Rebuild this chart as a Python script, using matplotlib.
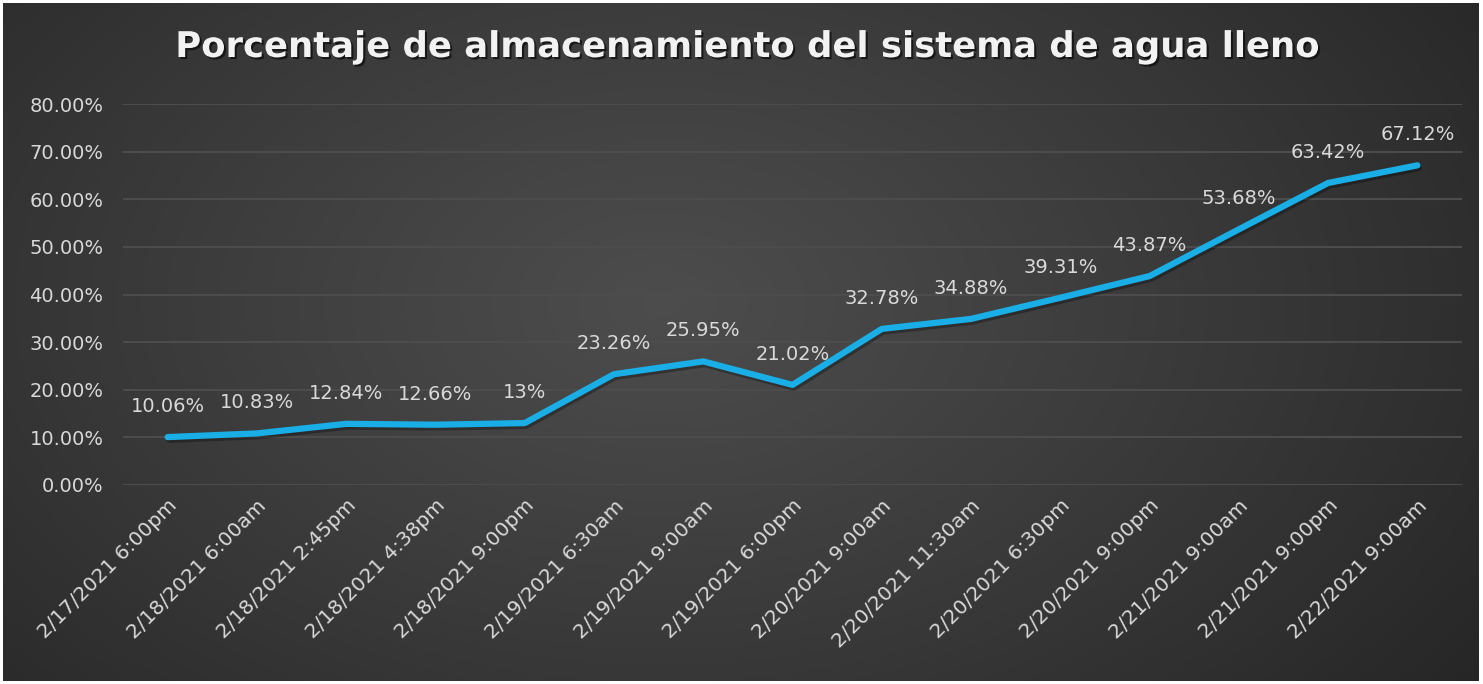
import matplotlib
matplotlib.use("Agg")
import matplotlib.pyplot as plt
import matplotlib.patheffects as pe
import matplotlib.ticker as ticker
import numpy as np

categorias = ["2/17/2021 6:00pm", "2/18/2021 6:00am", "2/18/2021 2:45pm", "2/18/2021 4:38pm",
              "2/18/2021 9:00pm", "2/19/2021 6:30am", "2/19/2021 9:00am", "2/19/2021 6:00pm",
              "2/20/2021 9:00am", "2/20/2021 11:30am", "2/20/2021 6:30pm", "2/20/2021 9:00pm",
              "2/21/2021 9:00am", "2/21/2021 9:00pm", "2/22/2021 9:00am"]
porcentaje = [10.06, 10.83, 12.84, 12.66, 13, 23.26, 25.95, 21.02, 32.78, 34.88,
              39.31, 43.87, 53.68, 63.42, 67.12]
etiquetas = [f"{v:g}%" for v in porcentaje]
titulo = "Porcentaje de almacenamiento del sistema de agua lleno"

plt.rcParams['font.family'] = ['DejaVu Sans']
txt = "#d9d9d9"

fig = plt.figure(figsize=(14.83, 6.84), dpi=100, facecolor="white")

# fondo con degradado radial
W, H = 1483, 684
bg = fig.add_axes([3 / W, 3 / H, 1476 / W, 678 / H])
yy, xx = np.mgrid[0:340, 0:740]
r = np.sqrt(((xx - 330) / 520.0) ** 2 + ((yy - 150) / 330.0) ** 2)
r = np.clip(r, 0, 1)
c0, c1 = 0.30, 0.145
img = c0 + (c1 - c0) * r ** 1.1
bg.imshow(np.dstack([img, img, img]), aspect="auto", extent=[0, 1, 0, 1], origin="upper")
bg.set_axis_off()

ax = fig.add_axes([123 / W, 1 - 485 / H, 1339 / W, 381 / H])
ax.patch.set_alpha(0)
x = np.arange(len(categorias))
y = np.array(porcentaje) / 100

ax.plot(x, y, color="#19aee5", lw=4.5, solid_capstyle="round", solid_joinstyle="round",
        path_effects=[pe.SimpleLineShadow(offset=(1, -2), alpha=0.3, shadow_color="black"), pe.Normal()],
        zorder=3)

for xi, yi, lab in zip(x, y, etiquetas):
    ax.annotate(lab, (xi, yi), xytext=(0, 22), textcoords="offset points", ha="center",
                va="center", color=txt, fontsize=14, zorder=4)

ax.set_xlim(-0.5, len(categorias) - 0.5)
ax.set_ylim(0, 0.8)
ax.yaxis.set_major_locator(ticker.MultipleLocator(0.1))
ax.yaxis.set_major_formatter(ticker.FuncFormatter(lambda v, p: f"{v * 100:.2f}%"))
ax.grid(axis="y", color="#4c4c4c", lw=1.5)
ax.set_axisbelow(True)
for s in ax.spines.values():
    s.set_visible(False)
ax.tick_params(axis="y", length=0, pad=14, labelsize=14, labelcolor=txt)
ax.tick_params(axis="x", length=0, pad=8, labelsize=14.5, labelcolor=txt)
ax.set_xticks(x)
ax.set_xticklabels(categorias, rotation=45, ha="right", rotation_mode="anchor")

fig.text(747 / W, 1 - 47 / H, titulo, ha="center", va="center", color="#f2f2f2",
         fontsize=25.5, fontweight="bold",
         path_effects=[pe.withSimplePatchShadow(offset=(1.5, -1.5), alpha=0.6, shadow_rgbFace="black")])

fig.savefig("out.png", dpi=100, facecolor=fig.get_facecolor())
